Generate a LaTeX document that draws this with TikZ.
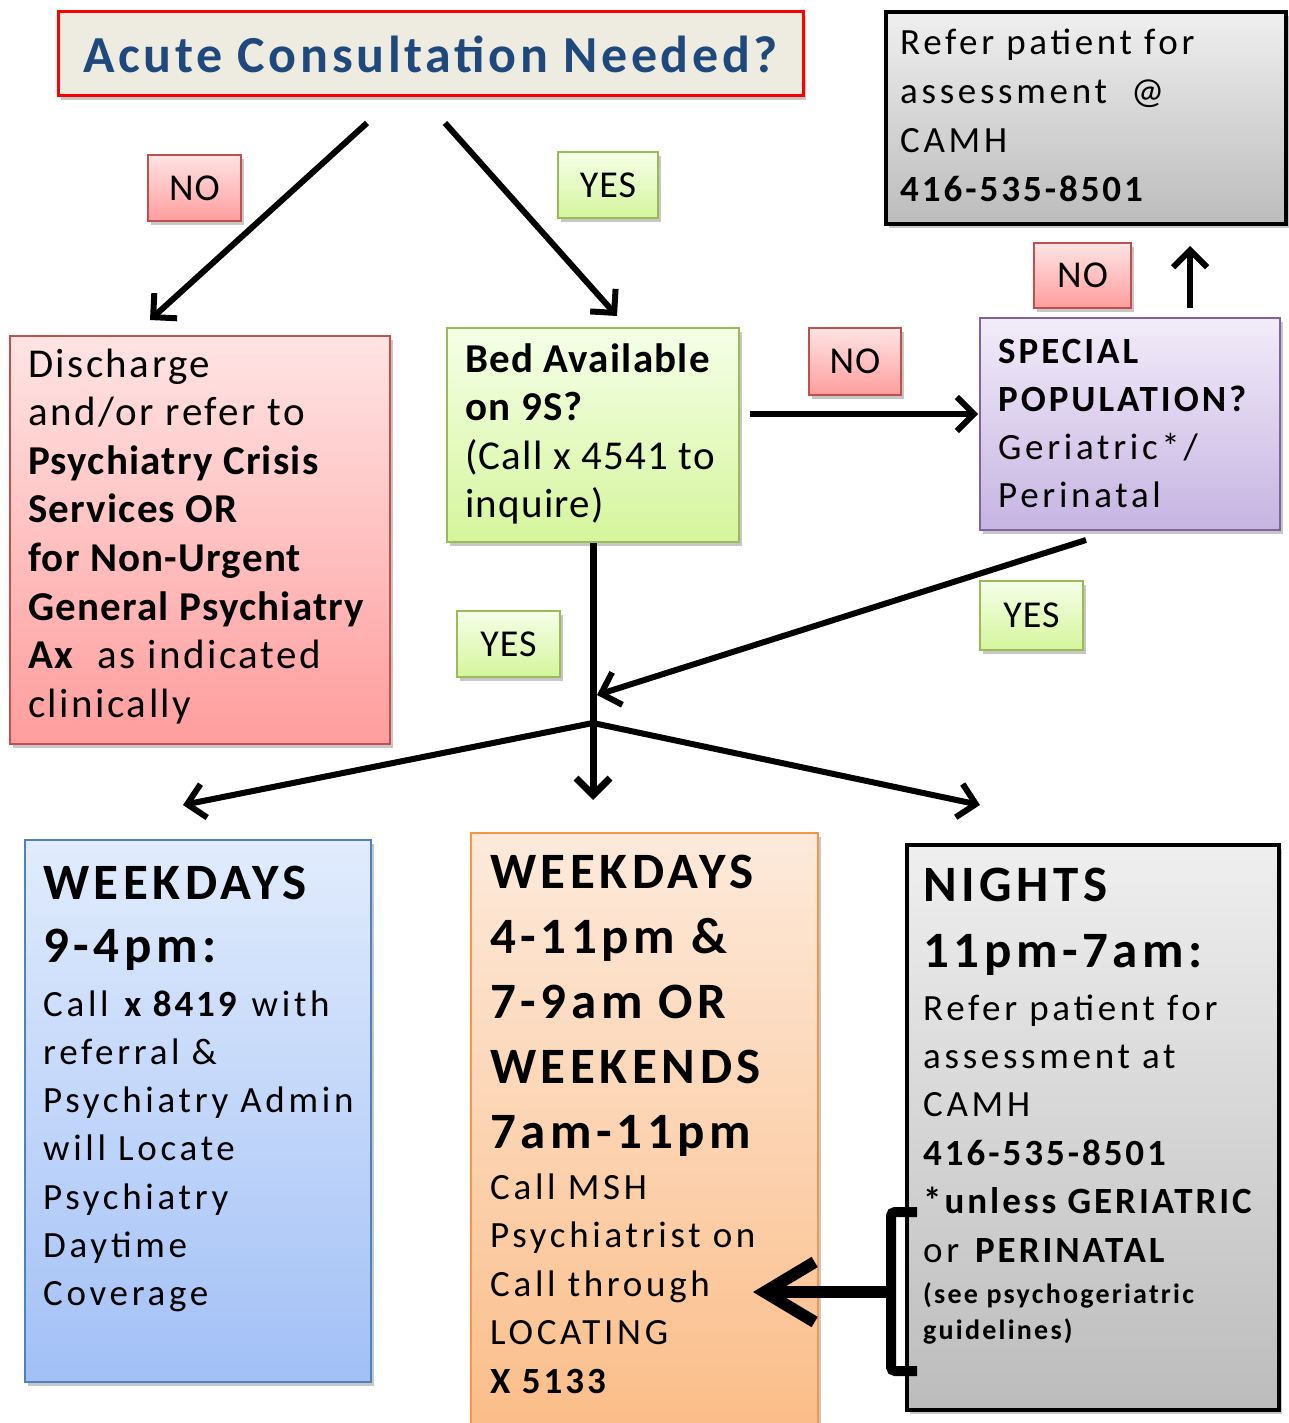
\documentclass[tikz,border=0pt]{standalone}
\usepackage{fontspec}
\setmainfont{Carlito}
\newfontfamily\fG{Carlito}[LetterSpace=3]
\newfontfamily\fR{Carlito}[LetterSpace=3]
\newfontfamily\fTitle{Carlito}[LetterSpace=7]
\newfontfamily\fRed{Carlito}[UprightFeatures={LetterSpace=6},BoldFeatures={LetterSpace=3}]
\newfontfamily\fN{Carlito}[UprightFeatures={LetterSpace=10},BoldFeatures={LetterSpace=8}]
\newfontfamily\fT{Carlito}[LetterSpace=9]
\usetikzlibrary{arrows.meta,shadows}
\definecolor{titleblue}{HTML}{1F497D}
\definecolor{titlefill}{HTML}{EEECE1}
\definecolor{redB}{HTML}{C0504D}
\definecolor{redTop}{HTML}{FFE4E4}
\definecolor{redBot}{HTML}{FF9D9D}
\definecolor{grnB}{HTML}{9BBB59}
\definecolor{grnTop}{HTML}{F5FFE8}
\definecolor{grnBot}{HTML}{D5F59C}
\definecolor{purB}{HTML}{8064A2}
\definecolor{purTop}{HTML}{F2ECF9}
\definecolor{purBot}{HTML}{C6B4E2}
\definecolor{bluB}{HTML}{4F81BD}
\definecolor{bluTop}{HTML}{E1ECFD}
\definecolor{bluBot}{HTML}{A2C0F6}
\definecolor{orgB}{HTML}{F79646}
\definecolor{orgTop}{HTML}{FDEADB}
\definecolor{orgBot}{HTML}{FBBC86}
\definecolor{gryTop}{HTML}{EFEFEF}
\definecolor{gryBot}{HTML}{BCBCBC}
\begin{document}
\begin{tikzpicture}[x=1pt,y=-1pt,
  shad/.style={drop shadow={shadow xshift=3pt,shadow yshift=-4pt,fill=black,opacity=0.22}},
  base/.style={rectangle, inner sep=0pt, line width=2.6pt, shad},
  rbox/.style={base, draw=redB, top color=redTop, bottom color=redBot},
  gbox/.style={base, draw=grnB, top color=grnTop, bottom color=grnBot},
  pbox/.style={base, draw=purB, top color=purTop, bottom color=purBot},
  bbox/.style={base, draw=bluB, top color=bluTop, bottom color=bluBot},
  obox/.style={base, draw=orgB, top color=orgTop, bottom color=orgBot},
  kbox/.style={base, draw=black, line width=3.2pt, top color=gryTop, bottom color=gryBot},
  tbox/.style={base, draw=red, line width=3pt, fill=titlefill},
  txt/.style={anchor=base west, inner sep=0pt},
  lab/.style={font=\fR\fontsize{38}{40}\selectfont},
  arr/.style={line width=6pt, -{Straight Barb[length=17pt,width=34pt]}},
]
\useasboundingbox (0,0) rectangle (1288,1423);
\fill[white] (0,0) rectangle (1288,1423);

% boxes
\node[tbox, minimum width=745pt, minimum height=84pt] (title) at (430.5,54)
  {\fTitle\fontsize{52}{60}\selectfont\bfseries\color{titleblue}Acute Consultation Needed?};
\node[kbox, minimum width=400pt, minimum height=212pt] (camh) at (1086,118) {};
\node[rbox, minimum width=380pt, minimum height=408pt] (red) at (200,540) {};
\node[gbox, minimum width=292pt, minimum height=214pt] (green) at (593,435) {};
\node[pbox, minimum width=300pt, minimum height=212pt] (purple) at (1130,424) {};
\node[bbox, minimum width=346pt, minimum height=542pt] (blue) at (198,1111) {};
\node[obox, minimum width=347pt, minimum height=614pt] (orange) at (644.5,1140) {};
\node[kbox, minimum width=372pt, minimum height=565pt] (nights) at (1093,1127.5) {};

% labels
\node[rbox, lab, minimum width=93pt, minimum height=66pt] (noA) at (194.5,188) {NO};
\node[gbox, lab, minimum width=100pt, minimum height=66pt] (yesA) at (608,185) {YES};
\node[rbox, lab, minimum width=92pt, minimum height=67pt] (noB) at (855,361.5) {NO};
\node[rbox, lab, minimum width=97pt, minimum height=65pt] (noC) at (1082.5,275.5) {NO};
\node[gbox, lab, minimum width=103pt, minimum height=66pt] (yesB) at (508.5,644) {YES};
\node[gbox, lab, minimum width=103pt, minimum height=69pt] (yesC) at (1031.5,615.5) {YES};

% texts
\node[txt] (camhT) at (900,55) {\parbox[t]{500pt}{\fN\fontsize{37}{48.7}\selectfont
  Refer patient for\\ assessment \ @\\ CAMH\\ \textbf{416-535-8501}}};
\node[txt] (redT) at (28,377) {\parbox[t]{500pt}{\fRed\fontsize{41}{48.6}\selectfont
  Discharge\\ and/or refer to\\ \textbf{Psychiatry Crisis}\\ \textbf{Services OR}\\
  \textbf{for Non-Urgent}\\ \textbf{General Psychiatry}\\ \textbf{Ax} \ as indicated\\ clinically}};
\node[txt] (greenT) at (465,372) {\parbox[t]{500pt}{\fG\fontsize{41}{48.5}\selectfont
  \textbf{Bed Available}\\ \textbf{on 9S?}\\ (Call x 4541 to\\ inquire)}};
\node[txt] (purpleT) at (998,363) {\parbox[t]{500pt}{\fN\fontsize{37}{48.3}\selectfont
  \textbf{SPECIAL}\\ \textbf{POPULATION?}\\ Geriatric*/\\ Perinatal}};
\node[txt] (blueT) at (43,899) {\parbox[t]{500pt}{\fN\fontsize{37}{48.3}\selectfont
  {\fT\fontsize{51}{51}\selectfont\bfseries WEEKDAYS}\\[14.7pt]
  {\fT\fontsize{51}{51}\selectfont\bfseries 9-4pm:}\\[5.7pt]
  Call \textbf{x 8419} with\\ referral \&\\ Psychiatry Admin\\ will Locate\\
  Psychiatry\\ Daytime\\ Coverage}};
\node[txt] (orangeT) at (490,888) {\parbox[t]{500pt}{\fN\fontsize{37}{48.5}\selectfont
  {\fT\fontsize{51}{51}\selectfont\bfseries WEEKDAYS}\\[16.5pt]
  {\fT\fontsize{51}{51}\selectfont\bfseries 4-11pm \&}\\[16.5pt]
  {\fT\fontsize{51}{51}\selectfont\bfseries 7-9am OR}\\[16.5pt]
  {\fT\fontsize{51}{51}\selectfont\bfseries WEEKENDS}\\[16.5pt]
  {\fT\fontsize{51}{51}\selectfont\bfseries 7am-11pm}\\[2.5pt]
  Call MSH\\ Psychiatrist on\\ Call through\\ LOCATING\\ \textbf{X 5133}}};
\node[txt] (nightsT) at (923,901) {\parbox[t]{500pt}{\fN\fontsize{37}{48.4}\selectfont
  {\fT\fontsize{51}{51}\selectfont\bfseries NIGHTS}\\[17.6pt]
  {\fT\fontsize{51}{51}\selectfont\bfseries 11pm-7am:}\\[4.6pt]
  Refer patient for\\ assessment at\\ CAMH\\ \textbf{416-535-8501}\\
  \textbf{*unless GERIATRIC}\\ or \textbf{PERINATAL}\\[-7.4pt]
  {\fontsize{28}{30}\selectfont\bfseries (see psychogeriatric}\\[-12.3pt]
  {\fontsize{28}{30}\selectfont\bfseries guidelines)}}};

% connector end points
\coordinate (a1) at (367,123); \coordinate (a1e) at (150,320);
\coordinate (a2) at (445,123); \coordinate (a2e) at (617,316);
\coordinate (a3) at (750,414); \coordinate (a3e) at (978,414);
\coordinate (a4) at (1190,308); \coordinate (a4e) at (1190,246);
\coordinate (a5e) at (593,800);
\coordinate (a6) at (1086,540); \coordinate (a6e) at (597,695);
\coordinate (sp) at (593,723); \coordinate (sl) at (183,805); \coordinate (sr) at (980,805);
\coordinate (bt) at (917,1212); \coordinate (bb) at (917,1371);
\coordinate (bm) at (891,1292); \coordinate (btip) at (753,1292);

% connectors
\draw[arr] (a1) -- (a1e);
\draw[arr] (a2) -- (a2e);
\draw[arr] (a3) -- (a3e);
\draw[arr] (a4) -- (a4e);
\draw[arr, line width=7pt] (green.south) -- (a5e);
\draw[arr] (a6) -- (a6e);
\draw[arr] (sp) -- (sl);
\draw[arr] (sp) -- (sr);
\draw[line width=10pt, rounded corners=4pt] (bt) -| (bm) |- (bb);
\draw[line width=12pt, -{Straight Barb[length=50pt,width=60pt]}] (bm) -- (btip);
\end{tikzpicture}
\end{document}
